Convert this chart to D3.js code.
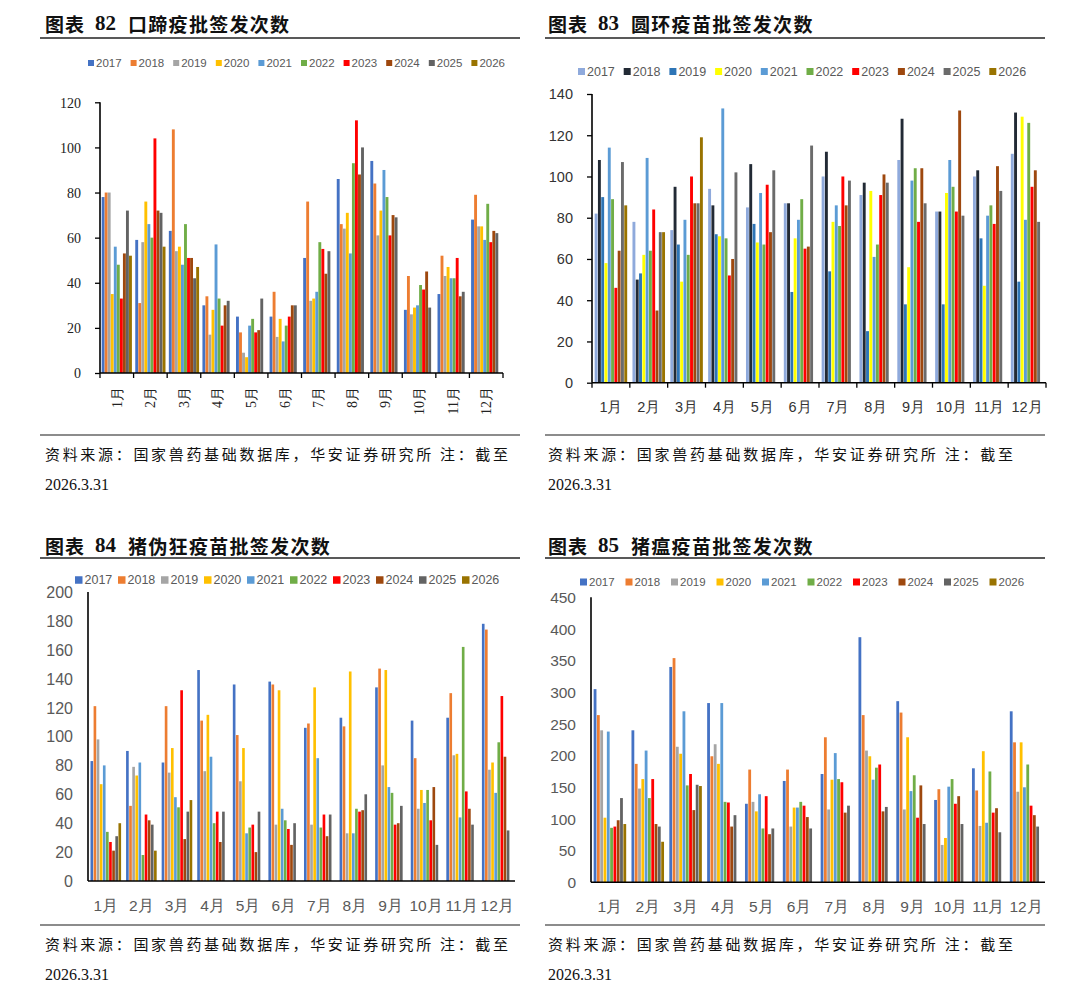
<!DOCTYPE html>
<html><head><meta charset="utf-8">
<script src="https://cdn.jsdelivr.net/npm/d3@7"></script>
<style>body{margin:0;background:#fff;} svg{display:block;}</style>
</head><body>
<svg id="c" width="1080" height="993"></svg>
<script>
const months = ['1月','2月','3月','4月','5月','6月','7月','8月','9月','10月','11月','12月'];
const years = ['2017','2018','2019','2020','2021','2022','2023','2024','2025','2026'];

// 图表82 口蹄疫批签发次数 (one row per year, Jan..Dec)
const fmdValues = [
  [78, 59, 63, 30, 25, 25, 51, 86, 94, 28, 35, 68],
  [80, 31, 108, 34, 18, 36, 76, 66, 84, 43, 52, 79],
  [80, 58, 54, 17, 9, 16, 32, 64, 61, 26, 43, 65],
  [35, 76, 56, 28, 7, 24, 33, 71, 72, 29, 47, 65],
  [56, 66, 48, 57, 21, 14, 36, 53, 90, 30, 42, 59],
  [48, 60, 66, 33, 24, 21, 58, 93, 78, 39, 42, 75],
  [33, 104, 51, 21, 18, 25, 55, 112, 61, 37, 51, 58],
  [53, 72, 51, 30, 19, 30, 44, 88, 70, 45, 34, 63],
  [72, 71, 42, 32, 33, 30, 54, 100, 69, 29, 36, 62],
  [52, 56, 47, null, null, null, null, null, null, null, null, null]
];
// 图表83 圆环疫苗批签发次数
const pcvValues = [
  [82, 78, 74, 94, 85, 87, 100, 91, 108, 83, 100, 111],
  [108, 50, 95, 86, 106, 87, 112, 97, 128, 83, 103, 131],
  [90, 53, 67, 72, 77, 44, 54, 25, 38, 38, 70, 49],
  [58, 62, 49, 71, 68, 70, 78, 93, 56, 92, 47, 129],
  [114, 109, 79, 133, 92, 79, 86, 61, 98, 108, 81, 79],
  [89, 64, 62, 70, 67, 89, 76, 67, 104, 95, 86, 126],
  [46, 84, 100, 52, 96, 65, 100, 91, 78, 83, 77, 95],
  [64, 35, 87, 60, 73, 66, 86, 101, 104, 132, 105, 103],
  [107, 73, 87, 102, 103, 115, 98, 97, 87, 81, 93, 78],
  [86, 73, 119, null, null, null, null, null, null, null, null, null]
];
// 图表84 猪伪狂疫苗批签发次数
const prvValues = [
  [83, 90, 82, 146, 136, 138, 106, 113, 134, 111, 113, 178],
  [121, 52, 121, 111, 101, 136, 109, 107, 147, 85, 130, 174],
  [98, 79, 75, 76, 69, 39, 39, 33, 80, 50, 87, 77],
  [67, 73, 92, 115, 92, 132, 134, 145, 146, 63, 88, 82],
  [80, 82, 58, 86, 33, 50, 85, 33, 65, 54, 44, 61],
  [34, 18, 51, 40, 37, 42, 37, 50, 61, 63, 162, 96],
  [27, 46, 132, 48, 39, 36, 46, 48, 39, 42, 62, 128],
  [21, 42, 29, 27, 20, 25, 31, 49, 40, 65, 50, 86],
  [31, 39, 48, 48, 48, 40, 46, 60, 52, 25, 39, 35],
  [40, 21, 56, null, null, null, null, null, null, null, null, null]
];
// 图表85 猪瘟疫苗批签发次数
const csfValues = [
  [305, 240, 340, 283, 124, 160, 171, 387, 286, 130, 180, 270],
  [264, 187, 354, 199, 178, 178, 229, 264, 268, 147, 145, 221],
  [240, 148, 214, 218, 127, 88, 115, 208, 115, 59, 89, 143],
  [102, 163, 203, 187, 112, 118, 162, 199, 229, 70, 207, 221],
  [238, 208, 270, 283, 139, 118, 204, 162, 144, 151, 94, 150],
  [86, 133, 153, 127, 85, 127, 163, 181, 169, 163, 175, 186],
  [88, 163, 171, 126, 136, 121, 158, 186, 102, 124, 110, 121],
  [98, 92, 114, 88, 76, 103, 110, 112, 153, 136, 117, 106],
  [133, 88, 154, 106, 85, 85, 121, 119, 92, 92, 79, 88],
  [92, 64, 152, null, null, null, null, null, null, null, null, null]
];

const officeColors = ['#4472C4','#ED7D31','#A5A5A5','#FFC000','#5B9BD5','#70AD47','#FF0000','#9E480E','#636363','#997300'];
const pcvColors = ['#8FAADC','#222A35','#2E75B6','#FFFF00','#5B9BD5','#70AD47','#FF0000','#9E480E','#6B6B6B','#997300'];

const fmdTicks = [0,20,40,60,80,100,120];
const pcvTicks = [0,20,40,60,80,100,120,140];
const prvTicks = [0,20,40,60,80,100,120,140,160,180,200];
const csfTicks = [0,50,100,150,200,250,300,350,400,450];

const sourceText = '资料来源：国家兽药基础数据库，华安证券研究所 注：截至';
const dateText = '2026.3.31';

const CJK = '"Noto Sans CJK SC", "Noto Sans", sans-serif';
const SERIF = '"Liberation Serif", "DejaVu Serif", serif';
const SANS = '"Liberation Sans", Arial, sans-serif';

const svg = d3.select('#c');

function drawPanel(cfg) {
  const g = svg.append('g');
  // title
  const t = g.append('text').attr('y', cfg.titleY)
    .attr('font-size', 19).attr('font-weight', 'bold').attr('fill', '#111')
    .attr('dominant-baseline', 'central');
  t.append('tspan').attr('x', cfg.titleX).attr('font-family', CJK).attr('letter-spacing', 1).text('图表');
  t.append('tspan').attr('x', cfg.titleX + 50).attr('font-family', SERIF).attr('font-size', 21).text(cfg.num);
  t.append('tspan').attr('x', cfg.titleX + 83).attr('font-family', CJK).attr('letter-spacing', 1.3).text(cfg.title);
  g.append('line').attr('x1', cfg.ruleX0).attr('x2', cfg.ruleX1)
    .attr('y1', cfg.ruleTop).attr('y2', cfg.ruleTop).attr('stroke', '#222').attr('stroke-width', 1.3);
  g.append('line').attr('x1', cfg.ruleX0).attr('x2', cfg.ruleX1)
    .attr('y1', cfg.ruleBottom).attr('y2', cfg.ruleBottom).attr('stroke', '#8c8c8c').attr('stroke-width', 2);
  g.append('text').attr('x', cfg.titleX).attr('y', cfg.ruleBottom + 18)
    .attr('font-family', CJK).attr('font-size', 15).attr('fill', '#111')
    .attr('dominant-baseline', 'central')
    .attr('textLength', cfg.srcLen).attr('lengthAdjust', 'spacing').text(sourceText);
  g.append('text').attr('x', cfg.titleX).attr('y', cfg.ruleBottom + 49)
    .attr('font-family', SERIF).attr('font-size', 16).attr('fill', '#111')
    .attr('dominant-baseline', 'central').text(dateText);

  // legend
  const lg = g.append('g');
  years.forEach((yr, j) => {
    const lx = cfg.legX + j * cfg.legStep;
    lg.append('rect').attr('x', lx).attr('y', cfg.legY - cfg.legSq / 2)
      .attr('width', cfg.legSq).attr('height', cfg.legSq).attr('fill', cfg.colors[j]);
    lg.append('text').attr('x', lx + cfg.legSq + 2).attr('y', cfg.legY).attr('dy', '0.35em')
      .attr('font-family', SANS).attr('font-size', cfg.legFont).attr('fill', '#595959').text(yr);
  });

  const x0 = d3.scaleBand().domain(months).range([cfg.left, cfg.right]);
  const bw = x0.bandwidth();
  const x1 = d3.scaleBand().domain(years)
    .range([bw * cfg.groupPad, bw * (1 - cfg.groupPad)]).paddingInner(cfg.barPad);
  const y = d3.scaleLinear().domain([0, cfg.ticks[cfg.ticks.length - 1]]).range([cfg.bottom, cfg.top]);

  const data = months.flatMap((m, i) => years.map((yr, j) => ({ m, yr, v: cfg.values[j][i], c: cfg.colors[j] })))
    .filter(d => d.v != null);
  g.append('g').selectAll('rect').data(data).join('rect')
    .attr('x', d => x0(d.m) + x1(d.yr))
    .attr('width', x1.bandwidth())
    .attr('y', d => y(d.v))
    .attr('height', d => y(0) - y(d.v))
    .attr('fill', d => d.c);

  // y axis
  const ya = g.append('g').attr('transform', `translate(${cfg.left},0)`)
    .call(d3.axisLeft(y).tickValues(cfg.ticks).tickSize(cfg.yTick).tickFormat(d3.format('d')));
  ya.select('.domain').remove();
  ya.selectAll('.tick line').attr('stroke', '#000').attr('stroke-width', 1.3);
  ya.selectAll('.tick text').attr('x', cfg.yLabelX).attr('dy', '0.34em')
    .attr('font-family', cfg.yFontFamily).attr('font-size', cfg.yFont).attr('fill', cfg.labelColor);
  g.append('line').attr('x1', cfg.left).attr('x2', cfg.left).attr('y1', cfg.bottom).attr('y2', cfg.top)
    .attr('stroke', '#000').attr('stroke-width', 1.6);

  // x axis
  const xa = g.append('g').attr('transform', `translate(0,${cfg.bottom})`)
    .call(d3.axisBottom(x0).tickSize(0));
  xa.select('.domain').remove();
  const xt = xa.selectAll('.tick text').attr('font-family', cfg.xFontFamily)
    .attr('font-size', cfg.xFont).attr('fill', cfg.labelColor);
  if (cfg.rotate) {
    xt.attr('transform', 'rotate(-90)').attr('x', -cfg.xLabelY).attr('y', 0)
      .attr('dy', '0.35em').attr('text-anchor', 'end');
  } else {
    xt.attr('y', cfg.xLabelY).attr('dy', '0.35em');
  }
  g.append('line').attr('x1', cfg.left).attr('x2', cfg.right).attr('y1', cfg.bottom).attr('y2', cfg.bottom)
    .attr('stroke', '#000').attr('stroke-width', 1.6);
  if (cfg.xTick > 0) {
    const bounds = months.map(m => x0(m)).concat([cfg.right]);
    g.append('g').selectAll('line').data(bounds).join('line')
      .attr('x1', d => d).attr('x2', d => d)
      .attr('y1', cfg.bottom).attr('y2', cfg.bottom + cfg.xTick)
      .attr('stroke', '#000').attr('stroke-width', 1.3);
  }
}

drawPanel({
  num: '82', title: '口蹄疫批签发次数', titleX: 45, titleY: 23,
  ruleX0: 40, ruleX1: 520, ruleTop: 38, ruleBottom: 435, srcLen: 463,
  legX: 88, legY: 63, legStep: 42.6, legSq: 6, legFont: 11.5,
  colors: officeColors, values: fmdValues, ticks: fmdTicks,
  left: 100, right: 503, top: 102.3, bottom: 373,
  groupPad: 0.05, barPad: 0.05,
  yTick: 5, yLabelX: -19, yFontFamily: SERIF, yFont: 14,
  xFontFamily: SERIF, xFont: 14, rotate: true, xLabelY: 14, xTick: 5, labelColor: '#222'
});
drawPanel({
  num: '83', title: '圆环疫苗批签发次数', titleX: 548, titleY: 23,
  ruleX0: 545, ruleX1: 1045, ruleTop: 38, ruleBottom: 435, srcLen: 465,
  legX: 578, legY: 71.5, legStep: 45.7, legSq: 7, legFont: 12.5,
  colors: pcvColors, values: pcvValues, ticks: pcvTicks,
  left: 592, right: 1046, top: 94, bottom: 382.7,
  groupPad: 0.07, barPad: 0.12,
  yTick: 5, yLabelX: -19, yFontFamily: SANS, yFont: 14.5,
  xFontFamily: SANS, xFont: 14.5, rotate: false, xLabelY: 24, xTick: 5, labelColor: '#333'
});
drawPanel({
  num: '84', title: '猪伪狂疫苗批签发次数', titleX: 45, titleY: 545,
  ruleX0: 40, ruleX1: 520, ruleTop: 558, ruleBottom: 925, srcLen: 463,
  legX: 75, legY: 580, legStep: 43, legSq: 7.5, legFont: 12.5,
  colors: officeColors, values: prvValues, ticks: prvTicks,
  left: 88, right: 515, top: 592, bottom: 881,
  groupPad: 0.07, barPad: 0.15,
  yTick: 0, yLabelX: -15, yFontFamily: SANS, yFont: 16,
  xFontFamily: SANS, xFont: 15.5, rotate: false, xLabelY: 25, xTick: 0, labelColor: '#595959'
});
drawPanel({
  num: '85', title: '猪瘟疫苗批签发次数', titleX: 548, titleY: 545,
  ruleX0: 545, ruleX1: 1045, ruleTop: 558, ruleBottom: 925, srcLen: 465,
  legX: 580, legY: 582, legStep: 45.5, legSq: 7, legFont: 11.5,
  colors: officeColors, values: csfValues, ticks: csfTicks,
  left: 591, right: 1045, top: 597.3, bottom: 882.3,
  groupPad: 0.07, barPad: 0.15,
  yTick: 0, yLabelX: -15, yFontFamily: SANS, yFont: 15.5,
  xFontFamily: SANS, xFont: 15.5, rotate: false, xLabelY: 24, xTick: 0, labelColor: '#595959'
});
</script>
</body></html>
